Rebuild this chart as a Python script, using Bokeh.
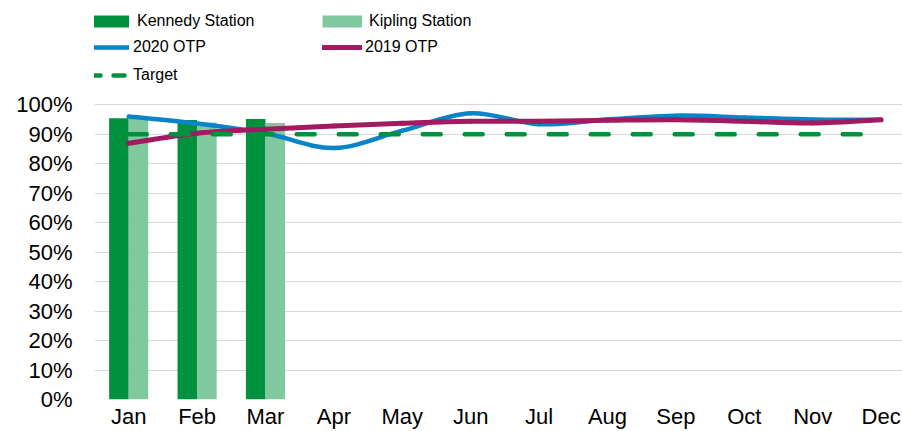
from bokeh.plotting import figure
from bokeh.models import ColumnDataSource, FixedTicker, Legend, LegendItem, Range1d
from bokeh.embed import file_html
from bokeh.resources import INLINE

# ---------------- data ----------------
months = ["Jan", "Feb", "Mar", "Apr", "May", "Jun",
          "Jul", "Aug", "Sep", "Oct", "Nov", "Dec"]
kennedy = [95.4, 94.8, 95.2]          # Kennedy Station (Jan-Mar)
kipling = [95.7, 94.0, 93.8]          # Kipling Station (Jan-Mar)
otp_2020 = [96.0, 93.6, 90.3, 85.3, 91.2, 97.1, 93.4, 95.0, 96.3, 95.7, 95.0, 94.9]
otp_2019 = [86.9, 90.3, 91.7, 92.8, 93.7, 94.4, 94.4, 94.7, 94.9, 94.4, 93.8, 94.9]
target = [90] * 12
y_ticks = [0, 10, 20, 30, 40, 50, 60, 70, 80, 90, 100]
y_tick_labels = ["0%", "10%", "20%", "30%", "40%", "50%",
                 "60%", "70%", "80%", "90%", "100%"]

# ---------------- styles ----------------
C_KEN = "#00913F"
C_KIP = "#80C99F"
C_2020 = "#0A84C8"
C_2019 = "#A21A5F"
C_TGT = "#00913F"
FONT = "Liberation Sans"
FRAME_BOTTOM = 399.3   # page y of the frame bottom (0 %)
FRAME_LEFT = 94

xs = list(range(len(months)))


def smooth_segments(x, y):
    """Bezier segments through the data points (Excel-style smoothed line)."""
    n = len(x)
    d = dict(x0=[], y0=[], x1=[], y1=[], cx0=[], cy0=[], cx1=[], cy1=[])
    for i in range(n - 1):
        a = i - 1 if i > 0 else i
        b = i + 2 if i + 2 < n else i + 1
        d["x0"].append(x[i]); d["y0"].append(y[i])
        d["x1"].append(x[i + 1]); d["y1"].append(y[i + 1])
        d["cx0"].append(x[i] + (x[i + 1] - x[a]) / 6)
        d["cy0"].append(y[i] + (y[i + 1] - y[a]) / 6)
        d["cx1"].append(x[i + 1] - (x[b] - x[i]) / 6)
        d["cy1"].append(y[i + 1] - (y[b] - y[i]) / 6)
    return ColumnDataSource(d)


p = figure(width=902, height=431, output_backend="svg", toolbar_location=None,
           x_range=Range1d(-0.5, 11.313), y_range=Range1d(0, 135.36),
           min_border_left=FRAME_LEFT, min_border_right=0, min_border_top=0,
           min_border_bottom=32, outline_line_color=None)
p.background_fill_color = "white"
p.border_fill_color = "white"
p.extra_y_ranges = {"hidden": Range1d(1000, 1001)}

bw = 0.286
p.vbar(x=[i - bw / 2 for i in xs[:len(kennedy)]], top=kennedy, width=bw,
       fill_color=C_KEN, line_color=None)
p.vbar(x=[i + bw / 2 for i in xs[:len(kipling)]], top=kipling, width=bw,
       fill_color=C_KIP, line_color=None)

p.bezier(x0="x0", y0="y0", x1="x1", y1="y1", cx0="cx0", cy0="cy0", cx1="cx1", cy1="cy1",
         source=smooth_segments(xs, otp_2020), line_color=C_2020, line_width=4.5,
         line_cap="round")
p.bezier(x0="x0", y0="y0", x1="x1", y1="y1", cx0="cx0", cy0="cy0", cx1="cx1", cy1="cy1",
         source=smooth_segments(xs, otp_2019), line_color=C_2019, line_width=5,
         line_cap="round")
p.line(xs, target, line_color=C_TGT, line_width=4.5, line_dash="18 24", line_cap="round")

# legend proxies (same data, drawn on an off-screen range so only the legend shows them)
r_ken = p.line(xs[:len(kennedy)], kennedy, y_range_name="hidden",
               line_color=C_KEN, line_width=12, line_cap="butt")
r_kip = p.line(xs[:len(kipling)], kipling, y_range_name="hidden",
               line_color=C_KIP, line_width=12, line_cap="butt")
r_20 = p.line(xs, otp_2020, y_range_name="hidden",
              line_color=C_2020, line_width=4.5, line_cap="round")
r_19 = p.line(xs, otp_2019, y_range_name="hidden",
              line_color=C_2019, line_width=5, line_cap="round")
r_tg = p.line(xs, target, y_range_name="hidden",
              line_color=C_TGT, line_width=4.5, line_dash="11 13", line_cap="round")


def make_legend(label, rend, glyph_left, text_left, row_center):
    h = 20
    loc = (glyph_left - FRAME_LEFT, FRAME_BOTTOM - (row_center - h / 2) - h)
    lg = Legend(items=[LegendItem(label=label, renderers=[rend])], location=loc,
                orientation="vertical", padding=0, margin=0, spacing=0,
                glyph_width=40, glyph_height=h, label_height=h,
                label_standoff=text_left - glyph_left - 40, border_line_color=None,
                background_fill_alpha=0, label_text_font=FONT,
                label_text_font_size="16px", label_text_color="black")
    p.add_layout(lg, "center")


make_legend("Kennedy Station", r_ken, 89, 137, 21.7)
make_legend("2020 OTP", r_20, 89, 133, 47.7)
make_legend("Target", r_tg, 89, 133, 75.7)
make_legend("Kipling Station", r_kip, 322, 369, 21.7)
make_legend("2019 OTP", r_19, 322, 365, 47.7)

# axes
p.yaxis.ticker = FixedTicker(ticks=y_ticks)
p.yaxis.major_label_overrides = {t: l for t, l in zip(y_ticks, y_tick_labels)}
p.xaxis.ticker = FixedTicker(ticks=xs)
p.xaxis.major_label_overrides = {i: m for i, m in zip(xs, months)}
for ax in (p.xaxis[0], p.yaxis[0]):
    ax.axis_label = None
    ax.axis_label_standoff = 0
    ax.axis_line_color = None
    ax.major_tick_line_color = None
    ax.minor_tick_line_color = None
    ax.major_tick_out = 0
    ax.major_tick_in = 0
    ax.major_label_text_font = FONT
    ax.major_label_text_font_size = "22px"
    ax.major_label_text_color = "black"
p.yaxis.major_label_standoff = 22
p.xaxis.major_label_standoff = 4
p.xgrid.grid_line_color = None
p.ygrid.grid_line_color = "#D9D9D9"
p.ygrid.grid_line_width = 1

open("out.html", "w").write(file_html(p, INLINE))
